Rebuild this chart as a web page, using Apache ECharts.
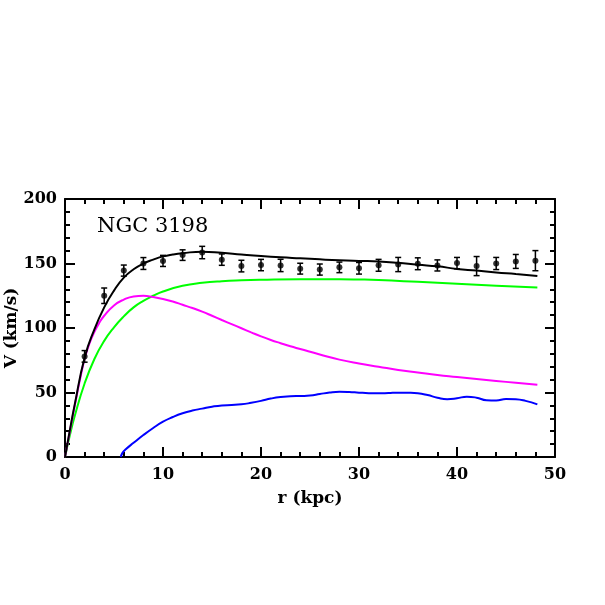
<!DOCTYPE html>
<html>
<head>
<meta charset="utf-8">
<script src="https://cdn.jsdelivr.net/npm/echarts@6/dist/echarts.min.js"></script>
<style>html,body{margin:0;padding:0;background:#fff;}#c{width:605px;height:605px;}</style>
</head>
<body>
<div id="c"></div>
<script>
// Observed rotation curve
const obsR = [2,4,6,8,10,12,14,16,18,20,22,24,26,28,30,32,34,36,38,40,42,44,46,48];
const obsV = [78,125,144.5,150,152,156.5,158.5,153,148,148.8,148.5,146,145.3,147,146.3,148.6,149.2,149.8,148.5,150.3,148,150,151.6,152.2];
const obsErr = [4.5,6,4.3,4.6,4.3,4.1,4.8,4.4,4.5,4.4,4.8,4.2,4.3,4.1,4.5,4.6,5.5,4.6,4.3,4.4,7.4,4.7,5.4,7.8];

// Total model (black)
const totR = [0,0.5,1,2,3,4,5,6,7,8,9,10,11,12,14,16,18,20,22,24,26,28,30,32,34,36,38,40,42,44,46,48.2];
const totV = [0,21,41,77,99,116,129,139,145.5,150,153,155.5,157,158,159.2,158.3,157,155.8,154.8,154,153.2,152.5,152,151.6,150.5,149,147.8,145.8,144.5,143,141.8,140.3];

// Disk (magenta)
const diskR = [0,0.5,1,1.5,2,2.5,3,3.5,4,5,6,7,8,9,10,11,12,13,14,15,16,17,18,19,20,21,22,23,24,26,28,30,32,34,36,38,40,42,44,46,48.2];
const diskV = [0,20,40,59,76,88,97,104,109.5,117.5,122,124.5,125,124,122.5,120.5,118,115.5,112.7,109.5,106.2,103,99.8,96.6,93.5,90.7,88.2,85.8,83.7,79.5,75.5,72.5,70,67.5,65.5,63.5,62,60.5,59,57.5,56];

// Halo (green)
const haloR = [0,0.5,1,2,3,4,5,6,7,8,9,10,12,14,16,18,20,24,28,30,32,36,40,44,48.2];
const haloV = [0,17,32,57,76,90,100.5,109,116,121,125,128.3,132.7,135,136.3,137,137.4,137.8,137.8,137.6,137.2,135.8,134.3,132.8,131.3];

// Gas (blue)
const gasR = [5.7,5.85,6.2,7,8,9,10,11,12,13,14,15,16,17,18,19,20,21,22,23,24,25,26,27,28,29,30,31,32,33,34,35,36,37,38,39,40,41,42,43,44,45,46,47,48.2];
const gasV = [0,3,6,11,17,22.5,27.4,31,33.9,36,37.5,39,40,40.3,40.8,42,43.5,45.3,46.5,47,47.3,47.6,48.8,50,50.6,50.4,49.9,49.5,49.4,49.6,49.9,49.8,49.4,48,46,44.8,45.5,46.8,46,44,43.8,45,44.8,43.5,40.8];

const xTicks = {min:0, max:50, interval:10};
const yTicks = {min:0, max:200, interval:50};

const zip = (a,b) => a.map((v,i)=>[v,b[i]]);
const FONT = 'DejaVu Serif';

const chart = echarts.init(document.getElementById('c'), null, {renderer:'canvas'});

function xAx(pos, show){
  return {
    type:'value', position:pos, min:xTicks.min, max:xTicks.max, interval:xTicks.interval,
    axisLine:{show:true, onZero:false, lineStyle:{color:'#000', width:2}},
    axisTick:{show:true, inside:true, length:10, lineStyle:{color:'#000', width:2}},
    minorTick:{show:true, splitNumber:5, length:5, lineStyle:{color:'#000', width:2}},
    axisLabel:{show:show, margin:10, color:'#000', fontFamily:FONT, fontWeight:'bold', fontSize:16},
    splitLine:{show:false},
    name: show ? 'r (kpc)' : '', nameLocation:'middle', nameGap:33, nameMoveOverlap:false,
    nameTextStyle:{color:'#000', fontFamily:FONT, fontWeight:'bold', fontSize:17}
  };
}
function yAx(pos, show){
  return {
    type:'value', position:pos, min:yTicks.min, max:yTicks.max, interval:yTicks.interval,
    axisLine:{show:true, onZero:false, lineStyle:{color:'#000', width:2}},
    axisTick:{show:true, inside:true, length:10, lineStyle:{color:'#000', width:2}},
    minorTick:{show:true, splitNumber:5, length:5, lineStyle:{color:'#000', width:2}},
    axisLabel:{show:show, margin:8, color:'#000', fontFamily:FONT, fontWeight:'bold', fontSize:16},
    splitLine:{show:false},
    name: show ? 'V (km/s)' : '', nameLocation:'middle', nameGap:45, nameRotate:90, nameMoveOverlap:false,
    nameTextStyle:{color:'#000', fontFamily:FONT, fontWeight:'bold', fontSize:17}
  };
}

function lineSeries(r, v, color){
  return {type:'line', data:zip(r,v), smooth:0.5, symbol:'none', xAxisIndex:0, yAxisIndex:0,
    lineStyle:{color:color, width:2}, z:2, silent:true, animation:false};
}

const errData = obsR.map((r,i)=>[r, obsV[i], obsErr[i]]);

chart.setOption({
  animation:false,
  backgroundColor:'#fff',
  grid:{left:65, right:50, top:199, bottom:148, containLabel:false, outerBoundsMode:'none'},
  xAxis:[xAx('bottom', true), xAx('top', false)],
  yAxis:[yAx('left', true), yAx('right', false)],
  graphic:[{type:'text', left:97, top:216, style:{text:'NGC 3198', fill:'#000', font:'21px "DejaVu Serif"'}}],
  series:[
    lineSeries(haloR, haloV, '#00ff00'),
    lineSeries(diskR, diskV, '#ff00ff'),
    lineSeries(gasR, gasV, '#0000ff'),
    lineSeries(totR, totV, '#000000'),
    {
      type:'custom', xAxisIndex:0, yAxisIndex:0, data:errData, z:3, silent:true,
      renderItem:function(params, api){
        const x = api.value(0), y = api.value(1), e = api.value(2);
        const t = api.coord([x, y+e]), b = api.coord([x, y-e]);
        const hw = 3;
        const st = {stroke:'#000', lineWidth:1.5};
        return {type:'group', children:[
          {type:'line', shape:{x1:t[0], y1:t[1], x2:b[0], y2:b[1]}, style:st},
          {type:'line', shape:{x1:t[0]-hw, y1:t[1], x2:t[0]+hw, y2:t[1]}, style:st},
          {type:'line', shape:{x1:b[0]-hw, y1:b[1], x2:b[0]+hw, y2:b[1]}, style:st}
        ]};
      }
    },
    {type:'scatter', data:zip(obsR, obsV), symbol:'circle', symbolSize:6,
      itemStyle:{color:'#000'}, z:4, silent:true}
  ]
});
</script>
</body>
</html>
